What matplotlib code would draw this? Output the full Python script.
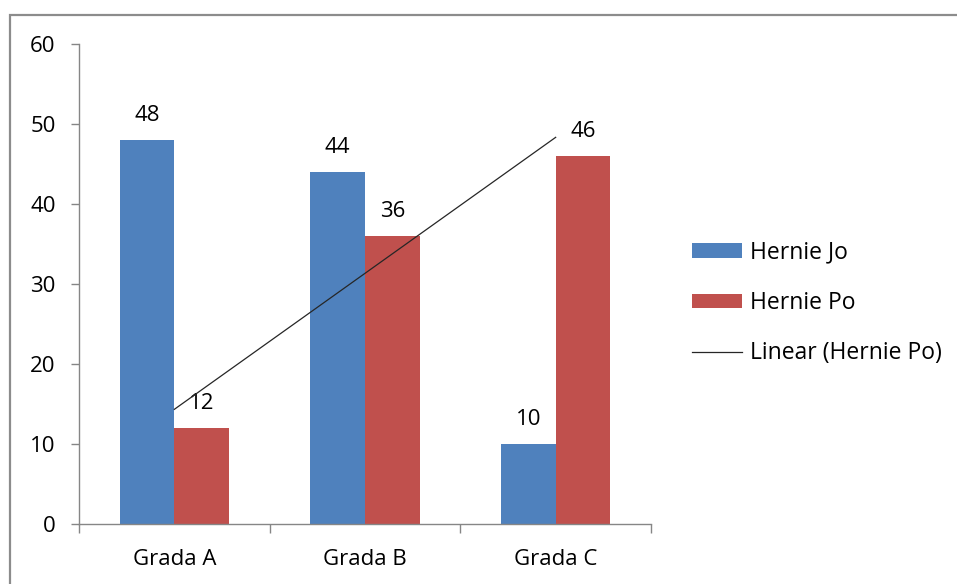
import numpy as np
import matplotlib
matplotlib.use("Agg")
import matplotlib.pyplot as plt
from matplotlib.patches import Patch, Rectangle
from matplotlib.lines import Line2D

plt.rcParams['font.family'] = ['Open Sans', 'DejaVu Sans']

categories = ["Grada A", "Grada B", "Grada C"]
hernie_jo = [48, 44, 10]
hernie_po = [12, 36, 46]
y_ticks = [0, 10, 20, 30, 40, 50, 60]

BLUE = "#4F81BD"
RED = "#C0504D"
AXIS = "#868686"
FS = 16

W, H = 957, 584
fig = plt.figure(figsize=(W / 100, H / 100), dpi=100)
ax = fig.add_axes([79 / W, (H - 524) / H, (651 - 79) / W, (524 - 44) / H])

x = np.arange(len(categories))
bw = 0.287
b1 = ax.bar(x - bw / 2, hernie_jo, bw, color=BLUE, zorder=2)
b2 = ax.bar(x + bw / 2, hernie_po, bw, color=RED, zorder=2)

# data labels above each bar
for bars, vals in ((b1, hernie_jo), (b2, hernie_po)):
    for rect, v in zip(bars, vals):
        ax.annotate(str(v), (rect.get_x() + rect.get_width() / 2, v),
                    xytext=(0, 13.5), textcoords="offset points",
                    ha="center", va="baseline", fontsize=FS, color="black")

# linear trendline fitted to Hernie Po
slope, intercept = np.polyfit(x + 1, hernie_po, 1)
trend = slope * (x + 1) + intercept
ax.plot(x, trend, color="#262626", lw=0.9, zorder=3)

ax.set_xlim(-0.5, len(categories) - 0.5)
ax.set_ylim(0, 60)
ax.set_yticks(y_ticks)
ax.set_xticks(x)
ax.set_xticklabels(categories)
ax.set_xticks(np.arange(len(categories) + 1) - 0.5, minor=True)

for s in ("top", "right"):
    ax.spines[s].set_visible(False)
for s in ("left", "bottom"):
    ax.spines[s].set_color(AXIS)
    ax.spines[s].set_linewidth(1.0)

ax.tick_params(axis="y", which="major", length=5.8, width=1.0, color=AXIS,
               pad=11, labelsize=FS, labelcolor="black")
ax.tick_params(axis="x", which="major", length=0, pad=18,
               labelsize=FS, labelcolor="black")
ax.tick_params(axis="x", which="minor", length=6.7, width=1.0, color=AXIS)

handles = [
    Patch(facecolor=BLUE, edgecolor="none"),
    Patch(facecolor=RED, edgecolor="none"),
    Line2D([], [], color="#262626", lw=0.9),
]
labels = ["Hernie Jo", "Hernie Po", "Linear (Hernie Po)"]
fig.legend(handles, labels, loc="center left",
           bbox_to_anchor=(692 / W, 1 - 303 / H),
           frameon=False, fontsize=16.5, borderpad=0, borderaxespad=0,
           handlelength=2.2, handleheight=0.61, handletextpad=0.35,
           labelspacing=1.15)

# outer chart frame
fig.patches.append(Rectangle((10 / W, -0.2), 2.0, 1.2 - 15 / H,
                             transform=fig.transFigure, fill=False,
                             edgecolor="#8c8c8c", lw=1.6, zorder=0))

fig.savefig("out.png", dpi=100)
